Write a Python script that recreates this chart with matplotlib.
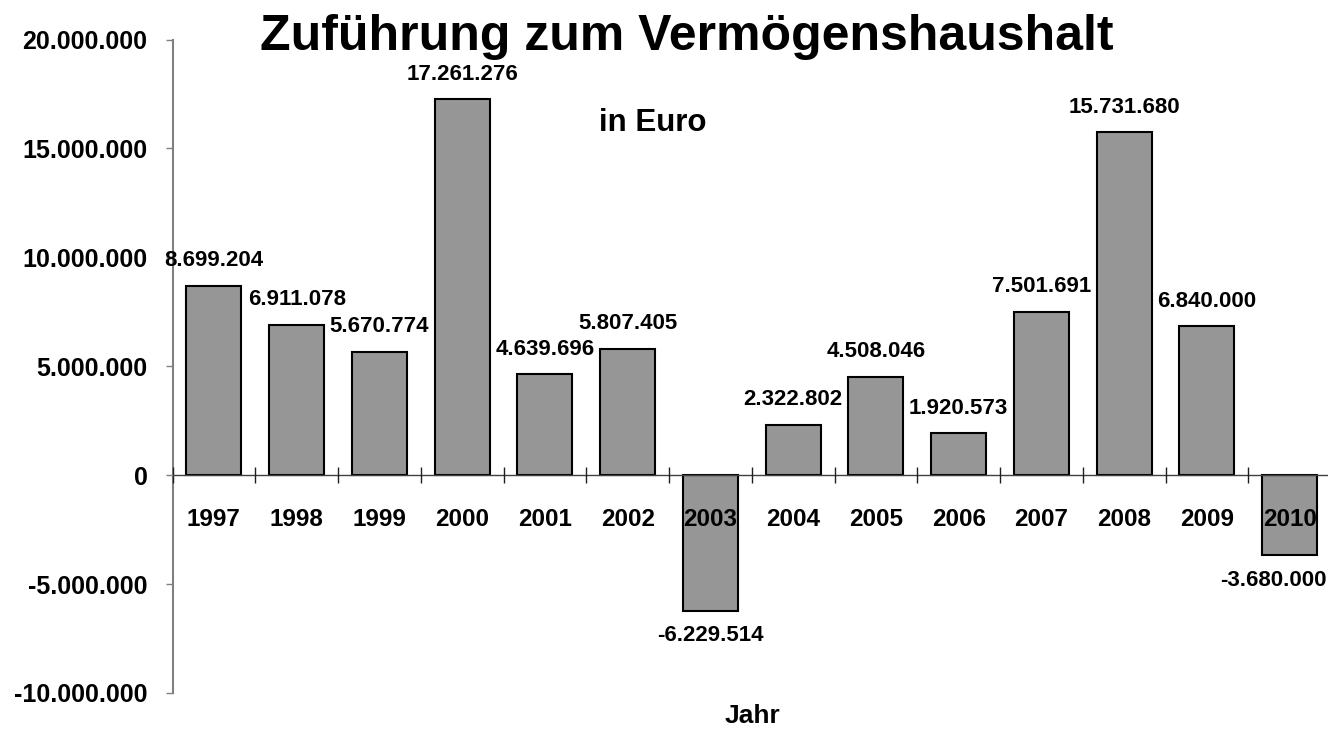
import numpy as np
import matplotlib
matplotlib.use("Agg")
from matplotlib import pyplot as plt

plt.rcParams['font.family'] = ['Liberation Sans', 'DejaVu Sans']
plt.rcParams['font.weight'] = 'bold'

# Daten
jahre = ["1997", "1998", "1999", "2000", "2001", "2002", "2003",
         "2004", "2005", "2006", "2007", "2008", "2009", "2010"]
werte = [8699204, 6911078, 5670774, 17261276, 4639696, 5807405, -6229514,
         2322802, 4508046, 1920573, 7501691, 15731680, 6840000, -3680000]
y_ticks = [-10000000, -5000000, 0, 5000000, 10000000, 15000000, 20000000]

# horizontale Verschiebung einzelner Beschriftungen (Punkte)
label_dx = [0, 0, 0, 0, 0, 0, 0, 0, 0, 0, 0, 0, 0, -12]


def punkt(v):
    return f"{v:,.0f}".replace(",", ".")


fig = plt.figure(figsize=(13.28, 7.29), dpi=100)
ax = fig.add_axes([0.1299, 0.0494, 0.8724, 0.8964])

x = np.arange(len(jahre))
ax.bar(x, werte, width=0.665, color="#969696", edgecolor="black", linewidth=1.5, zorder=1)
ax.set_axisbelow(False)   # Jahreszahlen über die Balken

ax.set_xlim(-0.5, len(jahre) - 0.5)
ax.set_ylim(-10000000, 20000000)

# Achsen
for s in ["top", "right"]:
    ax.spines[s].set_visible(False)
ax.spines["bottom"].set_position(("data", 0))
ax.spines["bottom"].set_color("#404040")
ax.spines["bottom"].set_linewidth(1.0)
ax.spines["left"].set_color("#808080")
ax.spines["left"].set_linewidth(1.5)

ax.set_yticks(y_ticks)
ax.set_yticklabels([punkt(v) for v in y_ticks])
ax.tick_params(axis="y", direction="out", length=5, width=1, color="#808080",
               labelsize=18, pad=13)

ax.set_xticks(x)
ax.set_xticklabels(jahre)
ax.set_xticks(np.arange(len(jahre) + 1) - 0.5, minor=True)
ax.tick_params(axis="x", which="major", length=0, labelsize=17.5, pad=24)
ax.tick_params(axis="x", which="minor", direction="inout", length=11, width=1, color="#202020")

# Datenbeschriftungen
for xi, v, dx in zip(x, werte, label_dx):
    dy = 18 if v >= 0 else -18
    ax.annotate(punkt(v), (xi, v), xytext=(dx, dy), textcoords="offset points",
                ha="center", va="center", fontsize=16, fontweight="bold",
                annotation_clip=False, zorder=5)

fig.text(0.517, 0.949, "Zuführung zum Vermögenshaushalt", ha="center", va="center",
         fontsize=36, fontweight="bold")
fig.text(0.4917, 0.831, "in Euro", ha="center", va="center", fontsize=22.5, fontweight="bold")
fig.text(0.5667, 0.018, "Jahr", ha="center", va="center", fontsize=19, fontweight="bold")

fig.savefig("out.png", dpi=100)
